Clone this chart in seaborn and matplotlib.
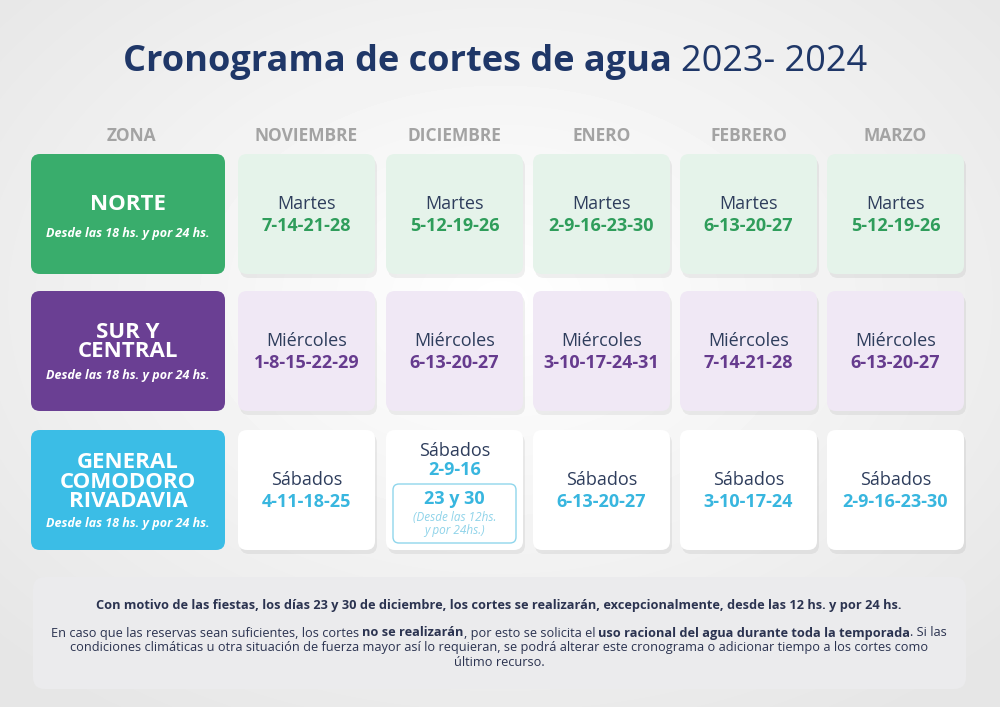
import numpy as np
import matplotlib
matplotlib.use("Agg")
import matplotlib.pyplot as plt
from matplotlib.patches import FancyBboxPatch
import seaborn as sns

sns.set_theme(style="white")
plt.rcParams["font.family"] = "Open Sans"

# --- datos ---
meses = ["NOVIEMBRE", "DICIEMBRE", "ENERO", "FEBRERO", "MARZO"]
zonas = ["NORTE", "SUR Y\nCENTRAL", "GENERAL\nCOMODORO\nRIVADAVIA"]
horario = "Desde las 18 hs. y por 24 hs."
dias_semana = ["Martes", "Miércoles", "Sábados"]
fechas_norte = ["7-14-21-28", "5-12-19-26", "2-9-16-23-30", "6-13-20-27", "5-12-19-26"]
fechas_sur = ["1-8-15-22-29", "6-13-20-27", "3-10-17-24-31", "7-14-21-28", "6-13-20-27"]
fechas_gcr = ["4-11-18-25", "2-9-16", "6-13-20-27", "3-10-17-24", "2-9-16-23-30"]
fechas_especiales = "23 y 30"
nota_especial = "(Desde las 12hs.\ny por 24hs.)"
fechas = [fechas_norte, fechas_sur, fechas_gcr]

color_zona = ["#39ad6c", "#6a3f93", "#3bbde6"]
color_celda = ["#e5f3ea", "#f0e8f5", "#ffffff"]
color_texto = ["#2f9d5b", "#663b8e", "#38b6df"]
navy = "#1f3768"

fig = plt.figure(figsize=(10, 7.07), dpi=100)
ax = fig.add_axes([0, 0, 1, 1])
ax.set_xlim(0, 1000)
ax.set_ylim(707, 0)
ax.axis("off")

# fondo con degradado
yy, xx = np.mgrid[0:707, 0:1000]
r = np.sqrt(((xx - 500) / 700) ** 2 + ((yy - 300) / 500) ** 2)
ax.imshow(1 - 0.1 * np.clip(r, 0, 1), cmap="gray", vmin=0, vmax=1,
          extent=[0, 1000, 707, 0], zorder=0)

def caja(x0, y0, w, h, fc, ec="none", lw=0, sombra=True, rad=9):
    if sombra:
        ax.add_patch(FancyBboxPatch((x0 + 2, y0 + 4), w, h, boxstyle=f"round,pad=0,rounding_size={rad}",
                                    fc="#000000", alpha=0.06, ec="none", zorder=1))
    ax.add_patch(FancyBboxPatch((x0, y0), w, h, boxstyle=f"round,pad=0,rounding_size={rad}",
                                fc=fc, ec=ec, lw=lw, zorder=2))

def linea_mixta(xc, y, partes, size, color):
    # partes: lista de (texto, negrita)
    fig.canvas.draw()
    r = fig.canvas.get_renderer()
    objs = []
    for t, b in partes:
        o = ax.text(0, y, t, fontsize=size, color=color, fontweight="bold" if b else "normal",
                    va="center", ha="left", zorder=5)
        objs.append(o)
    inv = ax.transData.inverted()
    anchos = []
    for o in objs:
        bb = o.get_window_extent(renderer=r)
        p0 = inv.transform((bb.x0, bb.y0))
        p1 = inv.transform((bb.x1, bb.y0))
        anchos.append(p1[0] - p0[0])
    x = xc - sum(anchos) / 2
    for o, w in zip(objs, anchos):
        o.set_x(x)
        x += w

# titulo
linea_mixta(495, 62, [("Cronograma de cortes de agua ", True), ("2023- 2024", False)], 26, navy)

col_x = [238, 386, 533, 680, 827]
col_w = 137
fila_y = [154, 291, 430]
fila_h = 120
off_nombre = [51, 51, 52]
off_horario = [80, 84, 94]

ax.text(131, 136, "ZONA", ha="center", va="center", fontsize=12.5, fontweight="bold", color="#a3a3a3")
for x, m in zip(col_x, meses):
    ax.text(x + col_w / 2, 136, m, ha="center", va="center", fontsize=12.5, fontweight="bold", color="#a3a3a3")

for i, (zona, y) in enumerate(zip(zonas, fila_y)):
    caja(31, y, 194, fila_h, color_zona[i], sombra=False)
    ax.text(128, y + off_nombre[i], zona, ha="center", va="center", fontsize=16, fontweight="bold",
            color="white", linespacing=0.92)
    ax.text(128, y + off_horario[i], horario, ha="center", va="center", fontsize=9,
            fontweight="bold", style="italic", color="white")
    for j, x in enumerate(col_x):
        caja(x, y, col_w, fila_h, color_celda[i])
        cx = x + col_w / 2
        if i == 2 and j == 1:
            ax.text(cx, y + 21, dias_semana[i], ha="center", va="center", fontsize=13, color="#2e3d5c")
            ax.text(cx, y + 40, fechas[i][j], ha="center", va="center", fontsize=13, fontweight="bold",
                    color=color_texto[i])
            caja(x + 7, y + 54, col_w - 14, 59, "white", ec="#8fd6ec", lw=1, sombra=False, rad=6)
            ax.text(cx, y + 69, fechas_especiales, ha="center", va="center", fontsize=13,
                    fontweight="bold", color=color_texto[i], zorder=5)
            ax.text(cx, y + 94, nota_especial, ha="center", va="center", fontsize=8.5, style="italic",
                    color="#8fd3e9", linespacing=1.0, zorder=5)
        else:
            ax.text(cx, y + 50, dias_semana[i], ha="center", va="center", fontsize=13, color="#2e3d5c")
            ax.text(cx, y + 72, fechas[i][j], ha="center", va="center", fontsize=13, fontweight="bold",
                    color=color_texto[i])

# nota inferior
caja(33, 577, 933, 112, "#ebebed", sombra=False, rad=12)
ax.text(499, 605, "Con motivo de las fiestas, los días 23 y 30 de diciembre, los cortes se realizarán, "
        "excepcionalmente, desde las 12 hs. y por 24 hs.", ha="center", va="center", fontsize=9.2,
        fontweight="bold", color="#2b3350")
linea_mixta(499, 633, [("En caso que las reservas sean suficientes, los cortes ", False),
                       ("no se realizarán", True),
                       (", por esto se solicita el ", False),
                       ("uso racional del agua durante toda la temporada", True),
                       (". Si las", False)], 9.2, "#2b3350")
ax.text(499, 648, "condiciones climáticas u otra situación de fuerza mayor así lo requieran, se podrá alterar "
        "este cronograma o adicionar tiempo a los cortes como", ha="center", va="center", fontsize=9.2,
        color="#2b3350")
ax.text(499, 663, "último recurso.", ha="center", va="center", fontsize=9.2, color="#2b3350")

fig.savefig("out.png", dpi=100)
